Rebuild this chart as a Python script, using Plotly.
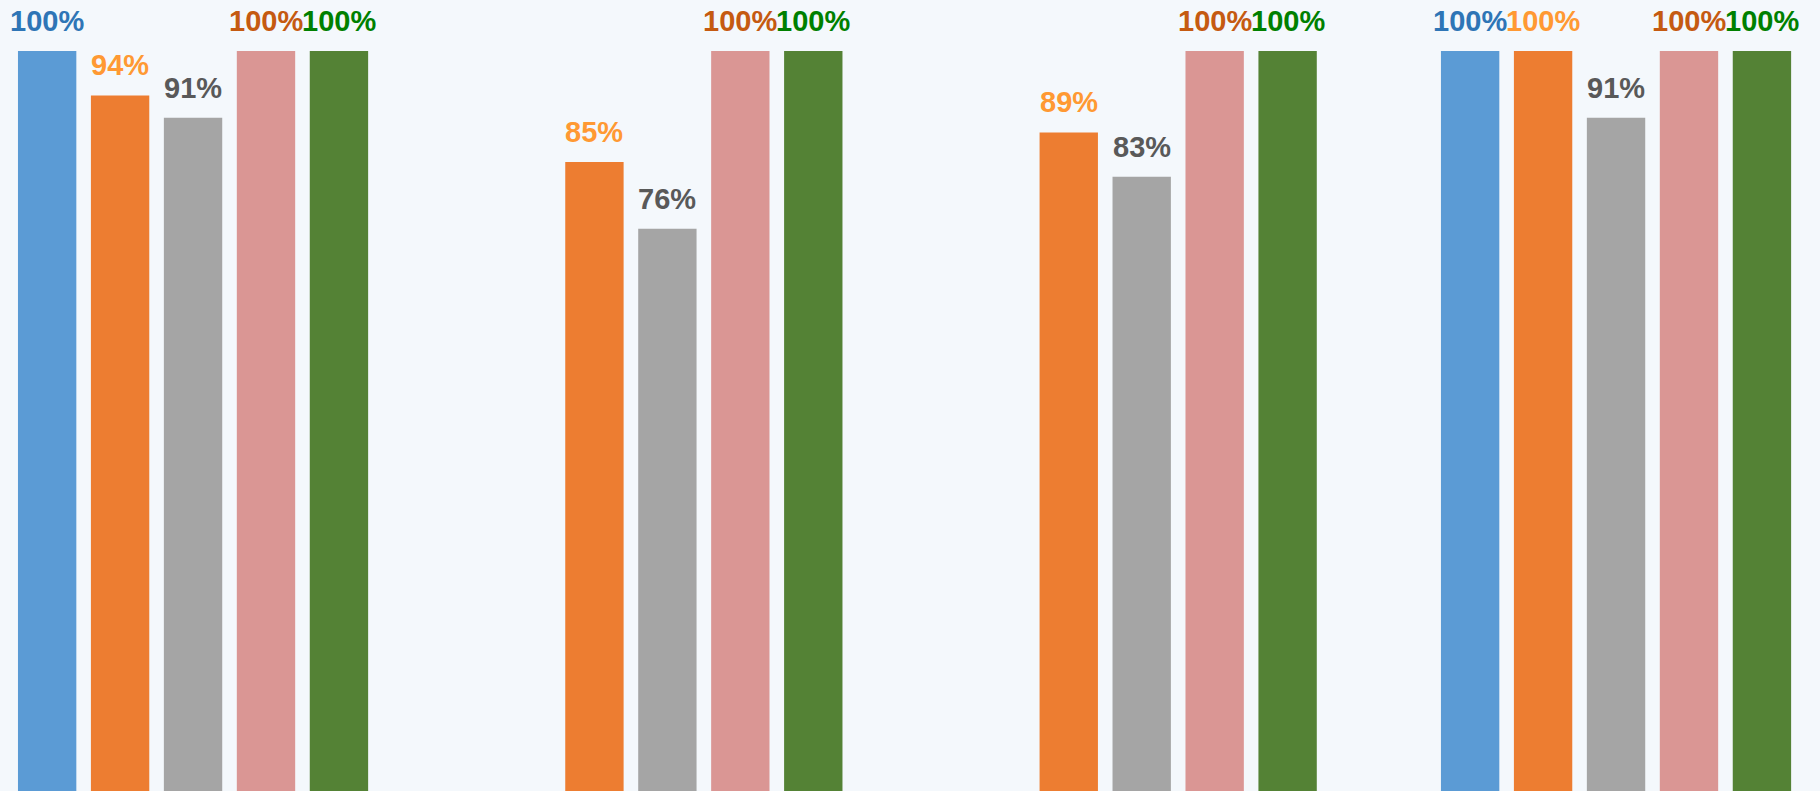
import plotly.graph_objects as go

categories = [0, 1, 2, 3]
series_names = ["S1", "S2", "S3", "S4", "S5"]
s1 = [100, None, None, 100]
s2 = [94, 85, 89, 100]
s3 = [91, 76, 83, 91]
s4 = [100, 100, 100, 100]
s5 = [100, 100, 100, 100]
series_values = [s1, s2, s3, s4, s5]

bar_colors = ["#5B9BD5", "#ED7D31", "#A5A5A5", "#DA9694", "#548235"]
label_colors = ["#2E75B6", "#FF9933", "#595959", "#C55A11", "#008000"]

bargap = 0.231
n = len(series_values)
slot = (1 - bargap) / n

fig = go.Figure()
annotations = []
for k, (name, vals) in enumerate(zip(series_names, series_values)):
    fig.add_trace(go.Bar(x=categories, y=vals, name=name,
                         marker=dict(color=bar_colors[k], line=dict(width=0)),
                         hoverinfo="skip"))
    off = (k - (n - 1) / 2) * slot
    for c, v in zip(categories, vals):
        if v is None:
            continue
        annotations.append(dict(x=c + off, y=v, xref="x", yref="y",
                                text=f"<b>{v}%</b>", showarrow=False,
                                yanchor="bottom", xanchor="center", yshift=12,
                                font=dict(family="Liberation Sans, Arial, sans-serif",
                                          size=29, color=label_colors[k])))

fig.update_layout(
    width=1820, height=791,
    barmode="group", bargap=bargap, bargroupgap=0.2,
    paper_bgcolor="#F4F8FC", plot_bgcolor="#F4F8FC",
    margin=dict(l=0, r=0, t=0, b=0),
    showlegend=False,
    xaxis=dict(range=[-0.407, 3.430], visible=False, fixedrange=True),
    yaxis=dict(range=[0, 106.9], visible=False, fixedrange=True),
    annotations=annotations,
)

fig.write_html("out.html", config={"displayModeBar": False},
               post_script="document.body.style.margin='0';document.body.style.overflow='hidden';document.body.style.background='#F4F8FC';")
